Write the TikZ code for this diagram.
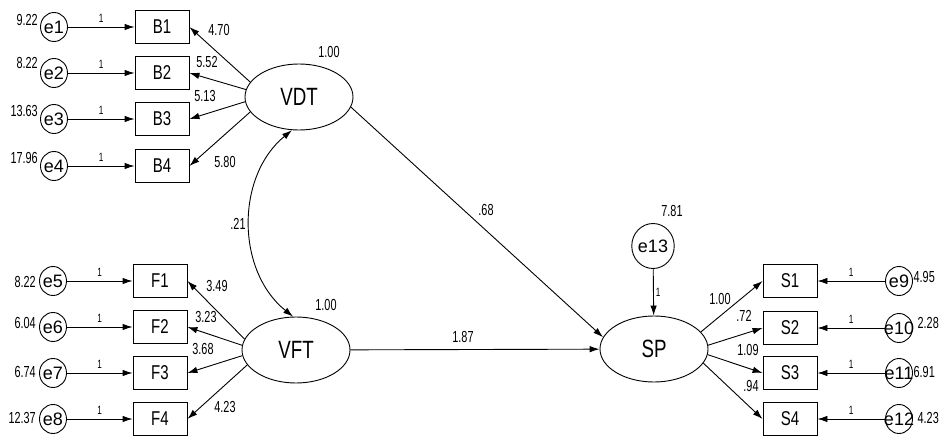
\documentclass[tikz,border=0pt]{standalone}
\usepackage{fontspec}
\setmainfont{Liberation Sans}
\newfontfamily\narrowfont{Liberation Sans}[FakeStretch=0.75]
\newfontfamily\numfont{Liberation Sans}[FakeStretch=0.68]
\usetikzlibrary{shapes.geometric,arrows.meta}

\tikzset{
  obs/.style={draw, rectangle, line width=0.9pt, minimum width=54pt, minimum height=33pt,
    inner sep=0pt, font=\narrowfont\fontsize{20}{22}\selectfont},
  lat/.style={draw, ellipse, line width=0.9pt, minimum width=108pt, minimum height=66pt,
    inner sep=0pt, font=\narrowfont\fontsize{25}{27}\selectfont},
  err/.style={draw, ellipse, line width=0.9pt, minimum width=27pt, minimum height=29pt,
    inner sep=0pt, font=\fontsize{18}{20}\selectfont},
  num/.style={inner sep=0pt, font=\numfont\fontsize{16}{18}\selectfont},
  one/.style={inner sep=0pt, font=\numfont\fontsize{12}{14}\selectfont},
  arr/.style={-{Latex[length=10pt,width=6.5pt]}, line width=0.9pt},
  dbl/.style={{Latex[length=10pt,width=6.5pt]}-{Latex[length=10pt,width=6.5pt]}, line width=0.9pt},
}

\begin{document}
\begin{tikzpicture}[x=1pt,y=-1pt]
    \useasboundingbox (0,0) rectangle (940,436);
    % latent variables
    \node[lat] (VDT) at (299,97) {VDT};
    \node[lat] (VFT) at (296,350) {VFT};
    \node[lat] (SP) at (654,349) {SP};
    \node[err, minimum width=39pt, minimum height=45pt] (e13) at (653,246) {e13};

    % VDT indicators
    \foreach \n/\y/\ly/\v/\a in {1/27/20/9.22/163, 2/73/63/8.22/172, 3/119/111/13.63/185, 4/166/158/17.96/197}{
        \node[err] (e\n) at (54,\y) {\makebox[0pt]{e\n}};
        \node[obs] (B\n) at (162,\y) {B\n};
        \node[num, anchor=east] (ve\n) at (38,\ly) {\v};
        \draw[arr] (e\n) -- node[one, above=4pt] (w\n) {1} (B\n);
        \draw[arr] (VDT.\a) -- (B\n.east);
    }
    % VFT indicators
    \foreach \n/\m/\y/\ly/\v/\a in {5/1/281/282/8.22/168, 6/2/327/323/6.04/175, 7/3/373/372/6.74/186, 8/4/419/418/12.37/197}{
        \node[err] (e\n) at (53,\y) {\makebox[0pt]{e\n}};
        \node[obs] (F\m) at (160,\y) {F\m};
        \node[num, anchor=east] (ve\n) at (36,\ly) {\v};
        \draw[arr] (e\n) -- node[one, above=4pt] (w\n) {1} (F\m);
        \draw[arr] (VFT.\a) -- (F\m.east);
    }
    % SP indicators
    \foreach \n/\m/\y/\ly/\lx/\v/\a in {9/1/281/277/935/4.95/20, 10/2/328/323/939/2.28/4,
        11/3/373/372/935/6.91/-6, 12/4/419/418/939/4.23/-16}{
        \node[err] (e\n) at (899,\y) {\makebox[0pt]{e\n}};
        \node[obs] (S\m) at (790,\y) {S\m};
        \node[num, anchor=east] (ve\n) at (\lx,\ly) {\v};
        \draw[arr] (e\n) -- node[one, above=4pt] (w\n) {1} (S\m);
        \draw[arr] (SP.\a) -- (S\m.west);
    }

    % structural paths
    \draw[arr] (VDT.-11) -- (SP.167);
    \draw[arr] (VFT) -- (SP);
    \draw[arr] (e13) -- node[one, right=2pt] (w13) {1} (SP);
    \draw[dbl] (VDT.258) to[bend right=51] (VFT.95);

    % estimates
    \foreach \t/\x/\y [count=\i] in {4.70/219/30, 5.52/207/62, 5.13/205/96, 5.80/225/162,
        3.49/217/286, 3.23/206/317, 3.68/203/349, 4.23/225/407,
        1.00/720/299, .72/744/316, 1.09/748/350, .94/751/386,
        1.00/329/52, 1.00/326/305, 7.81/672/211, .68/486/210, 1.87/463/337, .21/238/224}
        \node[num] (est\i) at (\x,\y) {\t};
\end{tikzpicture}
\end{document}
